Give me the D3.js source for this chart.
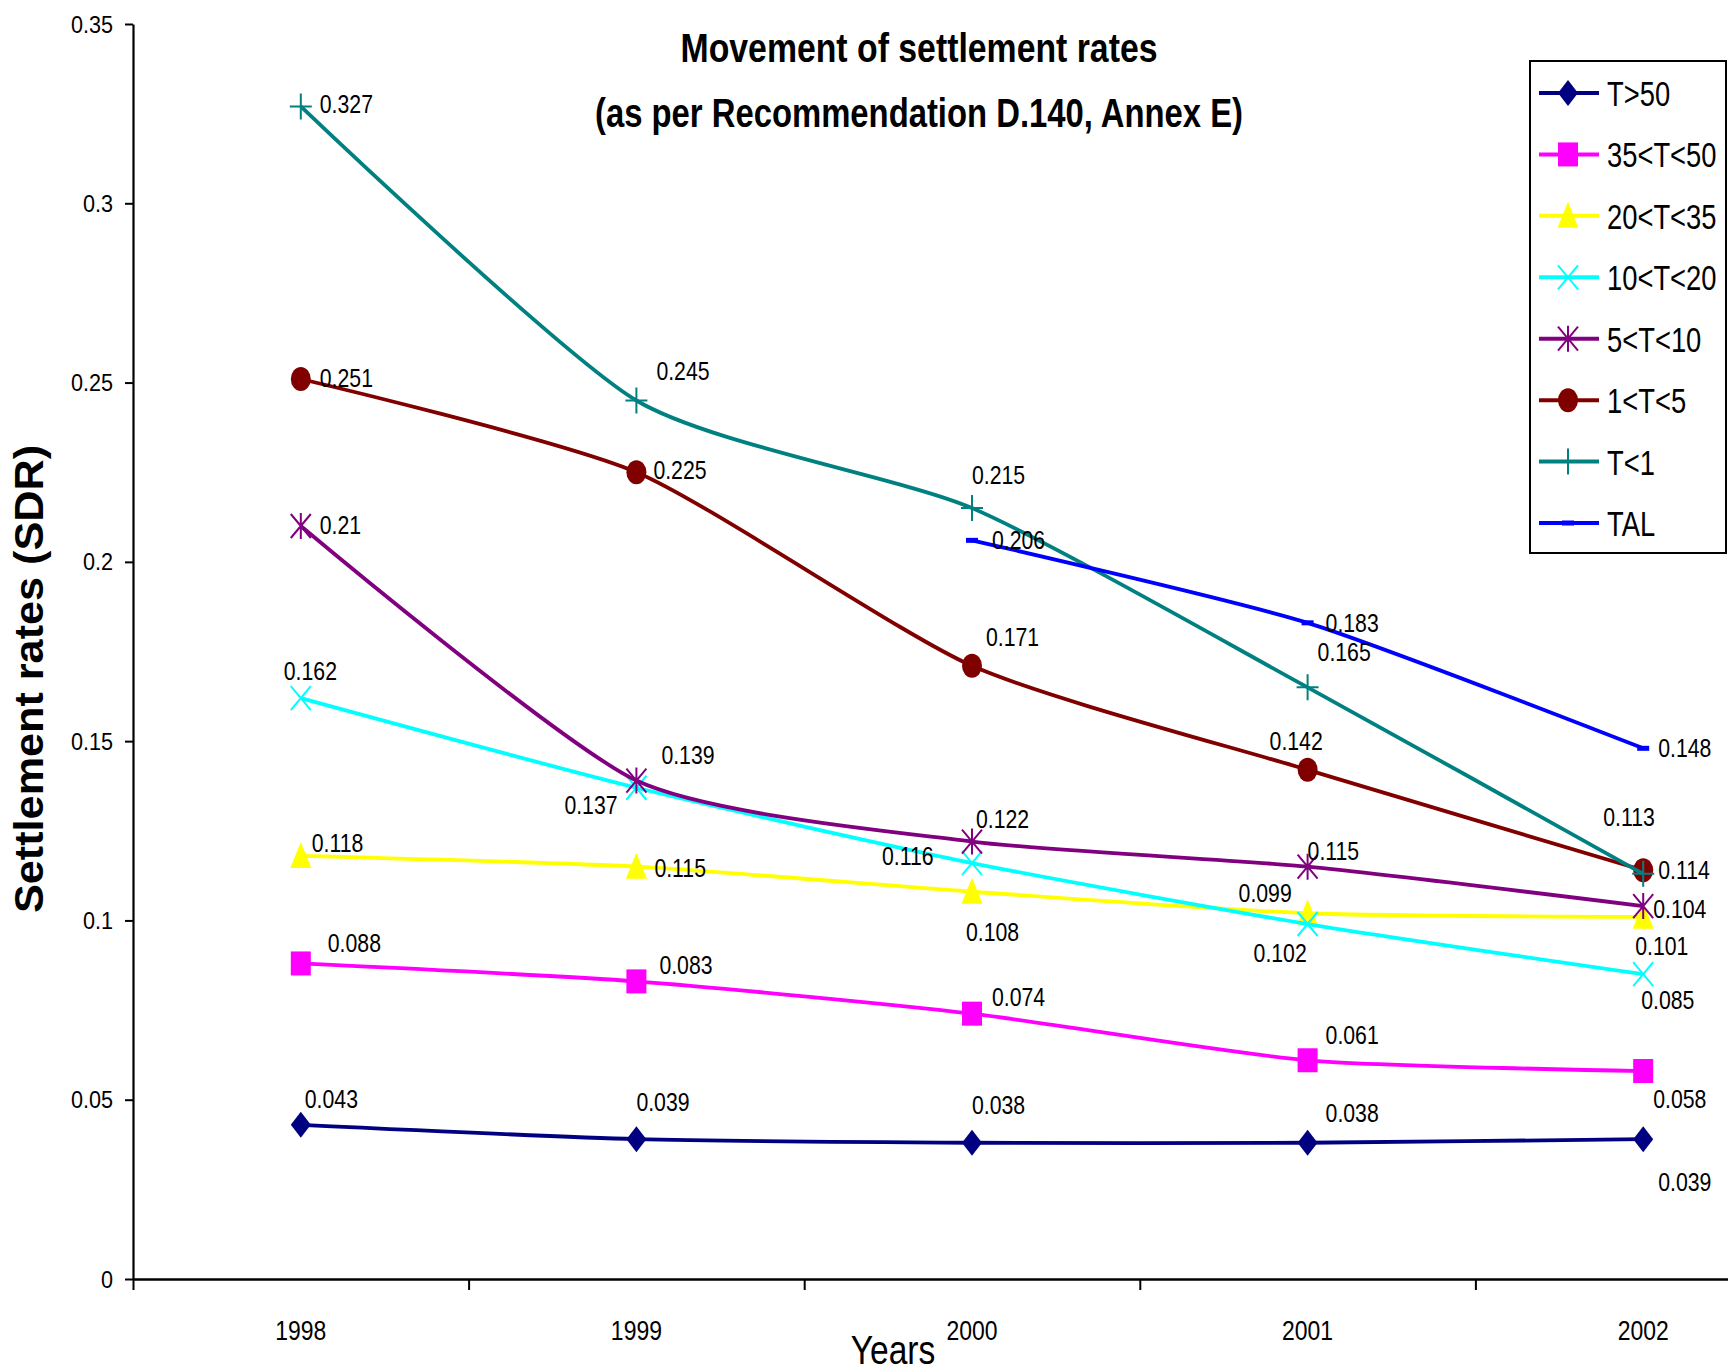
<!DOCTYPE html>
<html>
<head>
<meta charset="utf-8">
<script src="https://cdn.jsdelivr.net/npm/d3@7"></script>
<style>
  html, body { margin: 0; padding: 0; background: #fff; }
  svg { display: block; }
  text { font-family: "Liberation Sans", Arial, sans-serif; fill: #000; }
</style>
</head>
<body>
<svg id="chart" width="1728" height="1372"></svg>
<script>
// ---- data ----
const years = ["1998", "1999", "2000", "2001", "2002"];
const seriesNames = ["T>50", "35<T<50", "20<T<35", "10<T<20", "5<T<10", "1<T<5", "T<1", "TAL"];
const tGt50   = [0.043, 0.039, 0.038, 0.038, 0.039];
const t35to50 = [0.088, 0.083, 0.074, 0.061, 0.058];
const t20to35 = [0.118, 0.115, 0.108, 0.102, 0.101];
const t10to20 = [0.162, 0.137, 0.116, 0.099, 0.085];
const t5to10  = [0.21, 0.139, 0.122, 0.115, 0.104];
const t1to5   = [0.251, 0.225, 0.171, 0.142, 0.114];
const tLt1    = [0.327, 0.245, 0.215, 0.165, 0.113];
const tal     = [null, null, 0.206, 0.183, 0.148];
const yTicks = [0, 0.05, 0.1, 0.15, 0.2, 0.25, 0.3, 0.35];
const yTickLabels = ["0", "0.05", "0.1", "0.15", "0.2", "0.25", "0.3", "0.35"];

const seriesValues = [tGt50, t35to50, t20to35, t10to20, t5to10, t1to5, tLt1, tal];

// ---- appearance ----
const colors  = ["#000080", "#FF00FF", "#FFFF00", "#00FFFF", "#800080", "#800000", "#008080", "#0000FF"];
const markers = ["diamond", "square", "triangle", "x", "star", "circle", "plus", "dash"];

// label offsets (left edge dx, vertical centre dy) from each point
const labelOffsets = [
  [[4, -26], [0, -37], [0, -38], [18, -30], [15, 43]],
  [[27, -20], [23, -16], [20, -17], [18, -25], [10, 28]],
  [[11, -13], [18, 1], [-6, 40], [-54, 40], [-8, 29]],
  [[-17, -27], [-72, 17], [-90, -7], [-69, -31], [-2, 26]],
  [[19, -1], [25, -26], [4, -23], [0, -16], [10, 3]],
  [[19, -1], [17, -2], [14, -29], [-38, -29], [15, 0]],
  [[19, -2], [20, -30], [0, -33], [10, -35], [-40, -57]],
  [null, null, [20, 0], [18, 0], [15, 0]]
];

const svg = d3.select("#chart");

const left = 133, step = 335.6;
const xBand = d3.scaleBand().domain(years).range([left, left + step * years.length]).padding(0);
const xEdge = d3.scaleLinear().domain([0, years.length]).range([left, left + step * years.length]);
const y = d3.scaleLinear().domain([0, 0.35]).range([1279, 24]);
const cx = yr => xBand(yr) + xBand.bandwidth() / 2;

// condensed text helper
function ctext(parent, x, yPos, str, size, sx, anchor, weight) {
  return parent.append("text")
    .attr("transform", `translate(${x},${yPos}) scale(${sx},1)`)
    .attr("text-anchor", anchor || "start")
    .attr("font-size", size)
    .attr("font-weight", weight || "normal")
    .text(str);
}

// ---- axes ----
const yAxis = d3.axisLeft(y).tickValues(yTicks).tickFormat("").tickSize(8).tickSizeOuter(0);
const gy = svg.append("g").attr("transform", `translate(${left},0)`).call(yAxis);
gy.selectAll("line").attr("stroke", "#000").attr("stroke-width", 2);
gy.select(".domain").attr("stroke", "#000").attr("stroke-width", 2.2);

const xAxis = d3.axisBottom(xEdge).tickValues(d3.range(0, years.length + 1)).tickFormat("").tickSize(11).tickSizeOuter(0);
const gx = svg.append("g").attr("transform", `translate(0,${y(0)})`).call(xAxis);
gx.selectAll("line").attr("stroke", "#000").attr("stroke-width", 2);
gx.select(".domain").attr("stroke", "#000").attr("stroke-width", 2.6);

yTicks.forEach((v, i) => {
  ctext(svg, 113, y(v) + 8.5, yTickLabels[i], 24, 0.9, "end");
});
years.forEach(yr => {
  ctext(svg, cx(yr), 1340, yr, 28, 0.82, "middle");
});

// ---- marker shapes ----
function drawMarker(g, type, color) {
  switch (type) {
    case "diamond":
      g.append("path").attr("d", "M0,-13L10,0L0,13L-10,0Z").attr("fill", color); break;
    case "square":
      g.append("rect").attr("x", -10).attr("y", -12).attr("width", 20).attr("height", 24).attr("fill", color); break;
    case "triangle":
      g.append("path").attr("d", "M0,-14L10.5,12L-10.5,12Z").attr("fill", color); break;
    case "x":
      g.append("path").attr("d", "M-10,-12L10,12M10,-12L-10,12").attr("stroke", color).attr("stroke-width", 2).attr("fill", "none"); break;
    case "star":
      g.append("path").attr("d", "M-10,-12L10,12M10,-12L-10,12M0,-13L0,13").attr("stroke", color).attr("stroke-width", 2).attr("fill", "none"); break;
    case "circle":
      g.append("ellipse").attr("rx", 10).attr("ry", 12).attr("fill", color); break;
    case "plus":
      g.append("path").attr("d", "M-11,0L11,0M0,-13L0,13").attr("stroke", color).attr("stroke-width", 2).attr("fill", "none"); break;
    case "dash":
      g.append("rect").attr("x", -6).attr("y", -2.5).attr("width", 12).attr("height", 5).attr("fill", color); break;
  }
}

// ---- series (smoothed lines) ----
const line = d3.line()
  .defined(d => d.v != null)
  .x(d => cx(d.yr))
  .y(d => y(d.v))
  .curve(d3.curveCardinal.tension(0.35));

const plot = svg.append("g");
seriesValues.forEach((vals, si) => {
  const pts = years.map((yr, i) => ({ yr, v: vals[i] }));
  plot.append("path")
    .datum(pts.filter(d => d.v != null))
    .attr("d", line)
    .attr("fill", "none")
    .attr("stroke", colors[si])
    .attr("stroke-width", 3.8)
    .attr("stroke-linejoin", "round");
  pts.filter(d => d.v != null).forEach(d => {
    const g = plot.append("g").attr("transform", `translate(${cx(d.yr)},${y(d.v)})`);
    drawMarker(g, markers[si], colors[si]);
  });
});

const labels = svg.append("g");
seriesValues.forEach((vals, si) => {
  vals.forEach((v, i) => {
    if (v == null) return;
    const off = labelOffsets[si][i];
    ctext(labels, cx(years[i]) + off[0], y(v) + off[1] + 9, String(v), 25, 0.85, "start");
  });
});

// ---- titles ----
svg.append("text").attr("x", 919).attr("y", 62).attr("text-anchor", "middle")
  .attr("font-size", 40).attr("font-weight", "bold")
  .attr("textLength", 477).attr("lengthAdjust", "spacingAndGlyphs")
  .text("Movement of settlement rates");
svg.append("text").attr("x", 919).attr("y", 127).attr("text-anchor", "middle")
  .attr("font-size", 40).attr("font-weight", "bold")
  .attr("textLength", 648).attr("lengthAdjust", "spacingAndGlyphs")
  .text("(as per Recommendation D.140, Annex E)");

ctext(svg, 893, 1364, "Years", 40, 0.84, "middle");

svg.append("text")
  .attr("transform", "translate(43,679) rotate(-90)")
  .attr("text-anchor", "middle")
  .attr("font-size", 40).attr("font-weight", "bold")
  .attr("textLength", 468).attr("lengthAdjust", "spacingAndGlyphs")
  .text("Settlement rates (SDR)");

// ---- legend ----
const legend = svg.append("g");
legend.append("rect").attr("x", 1530).attr("y", 61).attr("width", 196).attr("height", 492)
  .attr("fill", "#fff").attr("stroke", "#000").attr("stroke-width", 2);
const rowY = d3.scalePoint().domain(seriesNames).range([93, 523]);
seriesNames.forEach((name, si) => {
  const ry = rowY(name);
  legend.append("line").attr("x1", 1539).attr("x2", 1599).attr("y1", ry).attr("y2", ry)
    .attr("stroke", colors[si]).attr("stroke-width", 4);
  const g = legend.append("g").attr("transform", `translate(1568,${ry})`);
  drawMarker(g, markers[si], colors[si]);
  ctext(legend, 1607, ry + 13, name, 36, 0.76, "start");
});
</script>
</body>
</html>
